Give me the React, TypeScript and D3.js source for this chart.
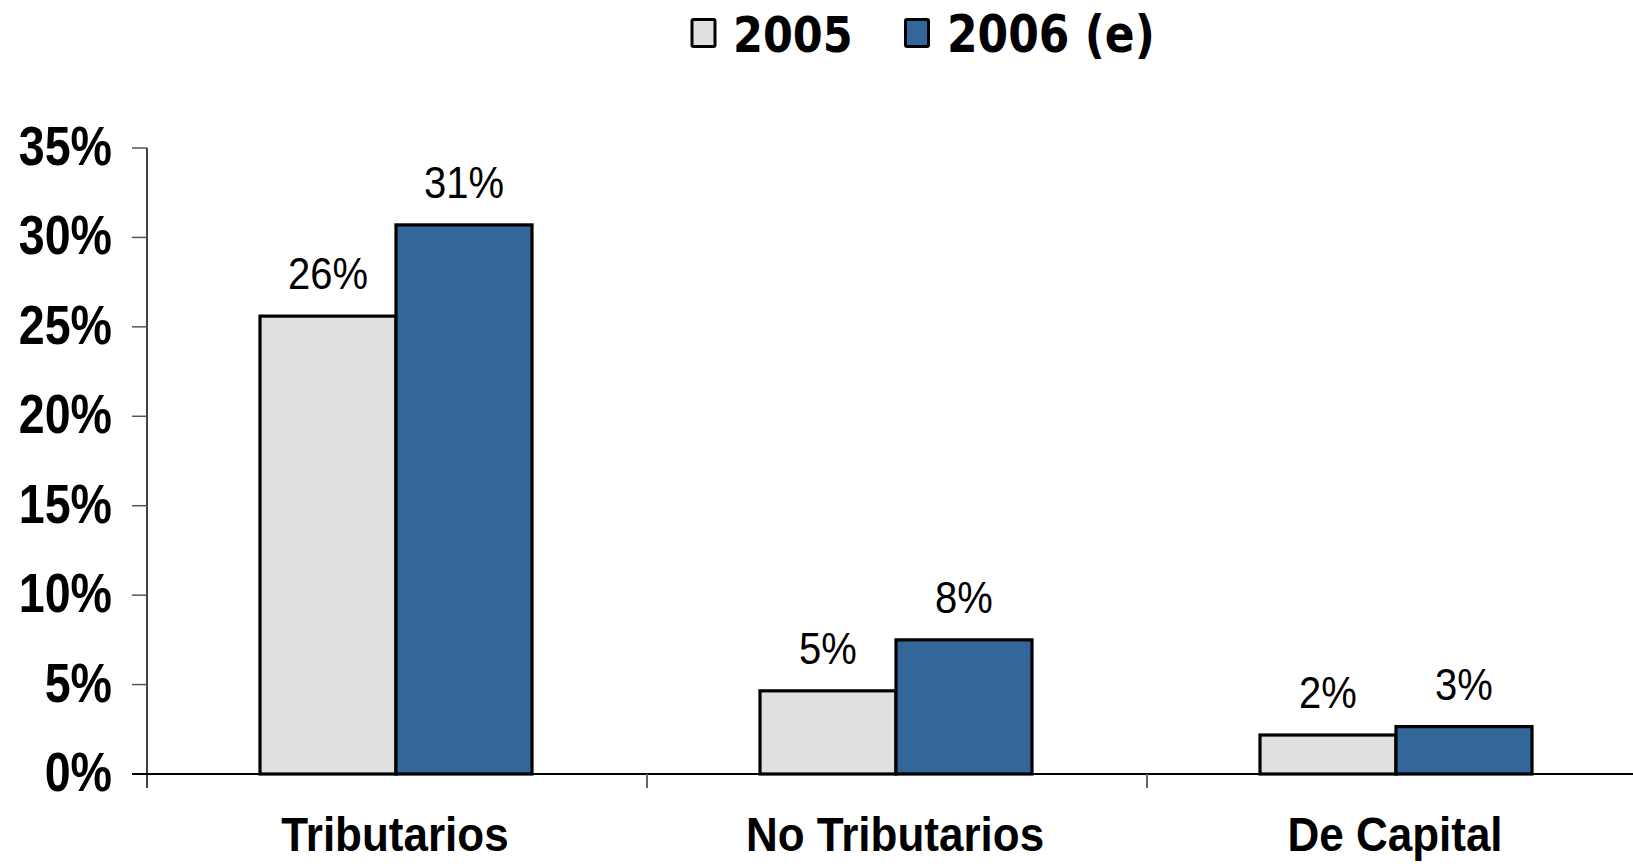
import React from "react";
import * as d3 from "d3";

const categories = ["Tributarios", "No Tributarios", "De Capital"];
const seriesNames = ["2005", "2006 (e)"];
const values2005 = [25.6, 4.65, 2.18];
const values2006 = [30.7, 7.5, 2.65];
const labels2005 = ["26%", "5%", "2%"];
const labels2006 = ["31%", "8%", "3%"];
const yTicks = [0, 5, 10, 15, 20, 25, 30, 35];
const colors = ["#e0e0e0", "#336699"];

const W = 1633;
const H = 864;

export default function App() {
  const x = d3.scaleBand<string>().domain(categories).range([147, 1647]).paddingInner(0).paddingOuter(0);
  const y = d3.scaleLinear().domain([0, 35]).range([774, 148]);
  const barW = 136;
  const series = [values2005, values2006];
  const labels = [labels2005, labels2006];

  return (
    <svg width={W} height={H} style={{ position: "absolute", left: 0, top: 0, background: "#fff" }}>
      {/* legend */}
      <g>
        <rect x={692} y={19.5} width={23} height={27} fill={colors[0]} stroke="#000" strokeWidth={3} rx={1.5} />
        <text transform="translate(733,52) scale(1,1.16)" fontFamily="DejaVu Sans" fontWeight="bold" fontSize={43}>{seriesNames[0]}</text>
        <rect x={905.5} y={19.5} width={23} height={27} fill={colors[1]} stroke="#000" strokeWidth={3} rx={1.5} />
        <text transform="translate(947,52) scale(1,1.16)" fontFamily="DejaVu Sans" fontWeight="bold" fontSize={44}>{seriesNames[1]}</text>
      </g>
      {/* y axis */}
      <line x1={147} x2={147} y1={148} y2={788} stroke="#000" strokeWidth={1.5} />
      {yTicks.map((t) => (
        <g key={t}>
          <line x1={132} x2={147} y1={y(t)} y2={y(t)} stroke="#555" strokeWidth={1.5} />
          <text
            transform={`translate(112,${y(t) + 17}) scale(0.97,1.15)`}
            textAnchor="end"
            fontFamily="Liberation Sans"
            fontWeight="bold"
            fontSize={48}
          >
            {t}%
          </text>
        </g>
      ))}
      {/* x axis */}
      <line x1={132} x2={W} y1={y(0)} y2={y(0)} stroke="#000" strokeWidth={2} />
      {categories.slice(1).map((c) => (
        <line key={c} x1={x(c)!} x2={x(c)!} y1={y(0)} y2={y(0) + 14} stroke="#666" strokeWidth={2} />
      ))}
      {/* bars */}
      {categories.map((c, i) => {
        const cx = x(c)! + x.bandwidth() / 2 - 1;
        return (
          <g key={c}>
            {series.map((s, si) => {
              const bx = cx - barW + si * barW;
              return (
                <g key={si}>
                  <rect
                    x={bx}
                    y={y(s[i])}
                    width={barW}
                    height={y(0) - y(s[i])}
                    fill={colors[si]}
                    stroke="#000"
                    strokeWidth={3.2}
                  />
                  <text
                    transform={`translate(${bx + barW / 2},${y(s[i]) - 27}) scale(1,1.1)`}
                    textAnchor="middle"
                    fontFamily="Liberation Sans"
                    fontSize={40}
                  >
                    {labels[si][i]}
                  </text>
                </g>
              );
            })}
            <text
              transform={`translate(${cx - 1},851) scale(1,1.1)`}
              textAnchor="middle"
              fontFamily="Liberation Sans"
              fontWeight="bold"
              fontSize={44}
            >
              {c}
            </text>
          </g>
        );
      })}
    </svg>
  );
}
